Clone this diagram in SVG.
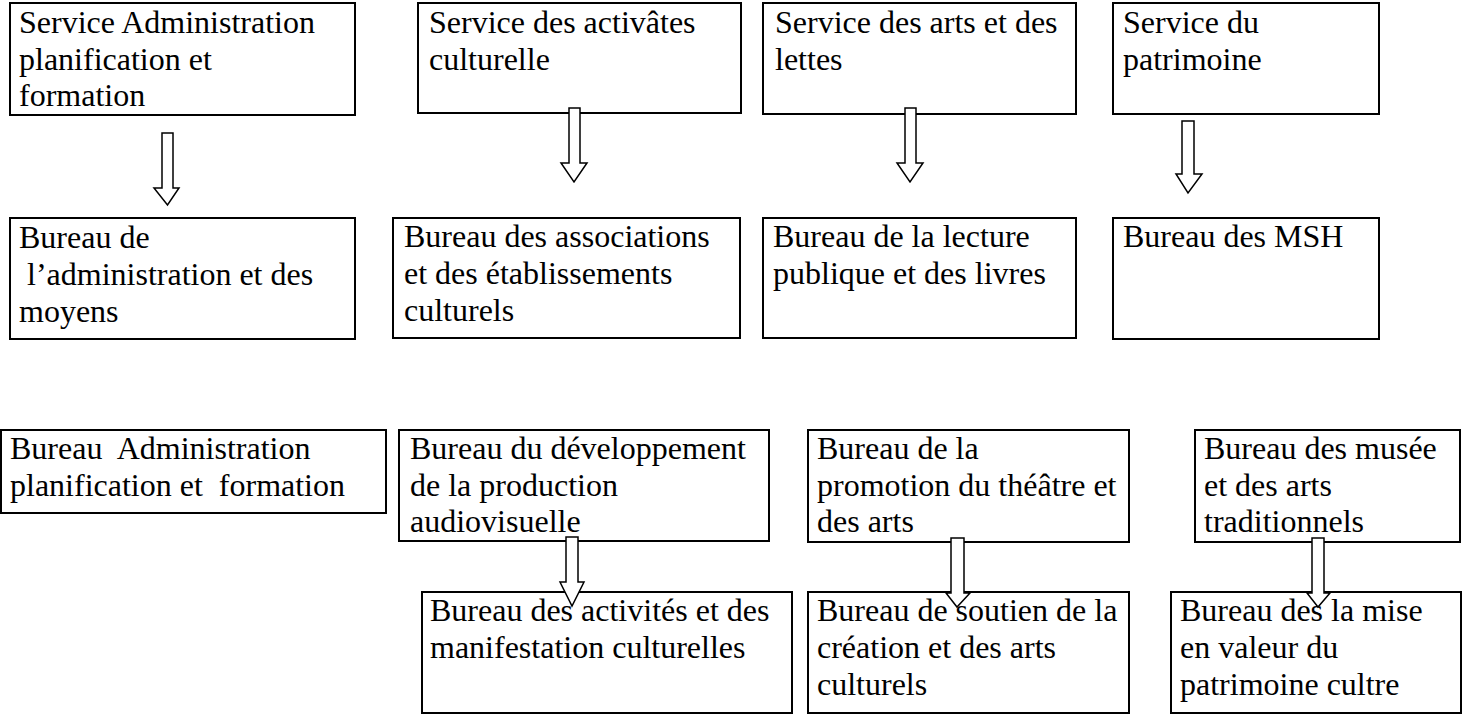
<svg xmlns="http://www.w3.org/2000/svg" width="1474" height="714" viewBox="0 0 1474 714">
<style>
.box{fill:#fff;stroke:#000;stroke-width:2}
.arr{fill:#fff;stroke:#000;stroke-width:1.5;stroke-linejoin:miter}
text{font-family:"Liberation Serif","Times New Roman",serif;font-size:32px;fill:#000}
</style>
<rect width="1474" height="714" fill="#fff"/>
<g id="n1"><rect class="box" x="10" y="3" width="345" height="112"/>
<text x="19" y="33">Service Administration</text><text x="19" y="70">planification et</text><text x="19" y="106">formation</text></g>
<g id="n2"><rect class="box" x="418" y="3" width="323" height="110"/>
<text x="429" y="33">Service des activâtes</text><text x="429" y="70">culturelle</text></g>
<g id="n3"><rect class="box" x="763" y="3" width="313" height="111"/>
<text x="775" y="33">Service des arts et des</text><text x="775" y="70">lettes</text></g>
<g id="n4"><rect class="box" x="1113" y="3" width="266" height="111"/>
<text x="1123" y="33">Service du</text><text x="1123" y="70">patrimoine</text></g>
<g id="n5"><rect class="box" x="10" y="218" width="345" height="121"/>
<text x="19" y="248">Bureau de</text><text x="27" y="285">l’administration et des</text><text x="19" y="322">moyens</text></g>
<g id="n6"><rect class="box" x="393" y="218" width="347" height="120"/>
<text x="404" y="247">Bureau des associations</text><text x="404" y="284">et des établissements</text><text x="404" y="321">culturels</text></g>
<g id="n7"><rect class="box" x="763" y="218" width="313" height="120"/>
<text x="773" y="247">Bureau de la lecture</text><text x="773" y="284">publique et des livres</text></g>
<g id="n8"><rect class="box" x="1113" y="218" width="266" height="121"/>
<text x="1123" y="247">Bureau des MSH</text></g>
<g id="n9"><rect class="box" x="1" y="430" width="385" height="83"/>
<text x="10" y="459" xml:space="preserve">Bureau  Administration</text><text x="10" y="496" xml:space="preserve">planification et  formation</text></g>
<g id="n10"><rect class="box" x="399" y="430" width="370" height="111"/>
<text x="410" y="459">Bureau du développement</text><text x="410" y="496">de la production</text><text x="410" y="532">audiovisuelle</text></g>
<g id="n11"><rect class="box" x="808" y="430" width="321" height="112"/>
<text x="817" y="459">Bureau de la</text><text x="817" y="496">promotion du théâtre et</text><text x="817" y="532">des arts</text></g>
<g id="n12"><rect class="box" x="1195" y="430" width="265" height="112"/>
<text x="1204" y="459">Bureau des musée</text><text x="1204" y="496">et des arts</text><text x="1204" y="532">traditionnels</text></g>
<g id="n13"><rect class="box" x="422" y="592" width="370" height="121"/>
<text x="430" y="621">Bureau des activités et des</text><text x="430" y="658">manifestation culturelles</text></g>
<g id="n14"><rect class="box" x="808" y="592" width="321" height="121"/>
<text x="817" y="621">Bureau de soutien de la</text><text x="817" y="658">création et des arts</text><text x="817" y="695">culturels</text></g>
<g id="n15"><rect class="box" x="1171" y="592" width="290" height="121"/>
<text x="1180" y="621">Bureau des la mise</text><text x="1180" y="658">en valeur du</text><text x="1180" y="695">patrimoine cultre</text></g>
<g id="connectors">
<polygon class="arr" points="162,133 173,133 173,188 179,188 167.5,205 154,188 162,188"/>
<polygon class="arr" points="569,108 580,108 580,163 587,163 574,182 561,163 569,163"/>
<polygon class="arr" points="905,108 916,108 916,163 923,163 910,182 897,163 905,163"/>
<polygon class="arr" points="1182,121 1194,121 1194,174 1202,174 1188,193 1176,174 1182,174"/>
<polygon class="arr" points="566,537 578,537 578,582 584,582 572,606 560,582 566,582"/>
<polygon class="arr" points="951,538 964,538 964,593 970,593 957,607 946,593 951,593"/>
<polygon class="arr" points="1312,538 1324,538 1324,593 1330,593 1318,607 1307,593 1312,593"/>
</g>
</svg>
